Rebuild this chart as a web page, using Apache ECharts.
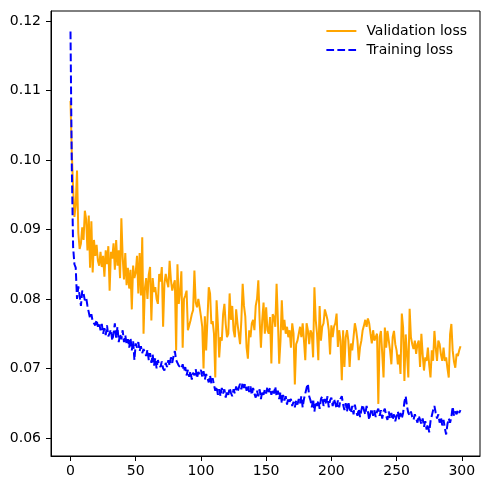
<!DOCTYPE html>
<html>
<head>
<meta charset="utf-8">
<title>loss</title>
<script src="https://cdn.jsdelivr.net/npm/echarts@6/dist/echarts.min.js"></script>
<style>
html, body { margin: 0; padding: 0; background: #fff; }
#chart1 { width: 490px; height: 490px; }
</style>
</head>
<body>
<div id="chart1"></div>
<script>
// values, one per epoch
var valLoss = [
    0.1085, 0.1010, 0.0960, 0.0918, 0.0935, 0.0985, 0.0895, 0.0872, 0.0880, 0.0903,
    0.0885, 0.0927, 0.0915, 0.0870, 0.0920, 0.0845, 0.0912, 0.0838, 0.0885, 0.0862,
    0.0878, 0.0855, 0.0848, 0.0868, 0.0846, 0.0862, 0.0832, 0.0870, 0.0850, 0.0876,
    0.0812, 0.0868, 0.0858, 0.0880, 0.0842, 0.0885, 0.0848, 0.0870, 0.0830, 0.0916,
    0.0860, 0.0828, 0.0866, 0.0820, 0.0845, 0.0815, 0.0842, 0.0785, 0.0848, 0.0830,
    0.0838, 0.0862, 0.0808, 0.0866, 0.0805, 0.0889, 0.0750, 0.0815, 0.0830, 0.0800,
    0.0835, 0.0846, 0.0769, 0.0830, 0.0810, 0.0817, 0.0800, 0.0793, 0.0836, 0.0825,
    0.0846, 0.0760, 0.0822, 0.0836, 0.0825, 0.0817, 0.0855, 0.0827, 0.0812, 0.0820,
    0.0827, 0.0726, 0.0850, 0.0793, 0.0810, 0.0840, 0.0730, 0.0800, 0.0805, 0.0812,
    0.0755, 0.0762, 0.0769, 0.0778, 0.0784, 0.0841, 0.0795, 0.0788, 0.0800, 0.0788,
    0.0775, 0.0760, 0.0700, 0.0775, 0.0726, 0.0770, 0.0817, 0.0808, 0.0764, 0.0768,
    0.0750, 0.0687, 0.0798, 0.0764, 0.0716, 0.0745, 0.0740, 0.0778, 0.0793, 0.0764,
    0.0745, 0.0750, 0.0808, 0.0770, 0.0790, 0.0755, 0.0745, 0.0785, 0.0765, 0.0750,
    0.0735, 0.0770, 0.0822, 0.0790, 0.0775, 0.0730, 0.0714, 0.0755, 0.0745, 0.0765,
    0.0770, 0.0755, 0.0790, 0.0800, 0.0827, 0.0770, 0.0730, 0.0770, 0.0795, 0.0750,
    0.0788, 0.0755, 0.0750, 0.0774, 0.0707, 0.0778, 0.0774, 0.0760, 0.0822, 0.0770,
    0.0707, 0.0740, 0.0798, 0.0755, 0.0770, 0.0750, 0.0760, 0.0745, 0.0755, 0.0730,
    0.0765, 0.0750, 0.0677, 0.0735, 0.0740, 0.0750, 0.0760, 0.0745, 0.0765, 0.0740,
    0.0712, 0.0765, 0.0755, 0.0735, 0.0755, 0.0750, 0.0716, 0.0817, 0.0770, 0.0750,
    0.0712, 0.0790, 0.0740, 0.0760, 0.0765, 0.0785, 0.0778, 0.0770, 0.0755, 0.0720,
    0.0762, 0.0745, 0.0760, 0.0765, 0.0779, 0.0731, 0.0755, 0.0740, 0.0683, 0.0755,
    0.0702, 0.0745, 0.0755, 0.0740, 0.0702, 0.0736, 0.0726, 0.0745, 0.0765, 0.0755,
    0.0740, 0.0712, 0.0731, 0.0740, 0.0755, 0.0762, 0.0770, 0.0760, 0.0772, 0.0765,
    0.0750, 0.0736, 0.0755, 0.0740, 0.0745, 0.0750, 0.0649, 0.0745, 0.0754, 0.0721,
    0.0687, 0.0759, 0.0730, 0.0754, 0.0740, 0.0726, 0.0706, 0.0745, 0.0754, 0.0735,
    0.0726, 0.0706, 0.0720, 0.0692, 0.0779, 0.0759, 0.0682, 0.0749, 0.0720, 0.0687,
    0.0786, 0.0745, 0.0735, 0.0728, 0.0740, 0.0721, 0.0735, 0.0740, 0.0702, 0.0750,
    0.0720, 0.0697, 0.0716, 0.0711, 0.0730, 0.0705, 0.0687, 0.0726, 0.0711, 0.0754,
    0.0730, 0.0711, 0.0740, 0.0735, 0.0720, 0.0711, 0.0730, 0.0711, 0.0716, 0.0700,
    0.0687, 0.0749, 0.0764, 0.0726, 0.0710, 0.0701, 0.0721, 0.0718, 0.0726, 0.0732
];
var trainLoss = [
    0.1185, 0.0990, 0.0875, 0.0850, 0.0845, 0.0800, 0.0818, 0.0805, 0.0790, 0.0812,
    0.0808, 0.0798, 0.0802, 0.0790, 0.0788, 0.0772, 0.0778, 0.0768, 0.0770, 0.0762,
    0.0770, 0.0760, 0.0766, 0.0755, 0.0764, 0.0750, 0.0758, 0.0748, 0.0762, 0.0746,
    0.0745, 0.0756, 0.0740, 0.0750, 0.0765, 0.0744, 0.0760, 0.0738, 0.0750, 0.0742,
    0.0755, 0.0738, 0.0748, 0.0735, 0.0742, 0.0730, 0.0744, 0.0726, 0.0740, 0.0712,
    0.0736, 0.0730, 0.0738, 0.0725, 0.0732, 0.0722, 0.0728, 0.0730, 0.0718, 0.0727,
    0.0712, 0.0722, 0.0708, 0.0720, 0.0704, 0.0715, 0.0700, 0.0712, 0.0705, 0.0702,
    0.0710, 0.0700, 0.0697, 0.0708, 0.0702, 0.0712, 0.0704, 0.0716, 0.0708, 0.0718,
    0.0725, 0.0712, 0.0708, 0.0704, 0.0706, 0.0700, 0.0706, 0.0696, 0.0702, 0.0690,
    0.0698, 0.0688, 0.0696, 0.0684, 0.0694, 0.0690, 0.0699, 0.0686, 0.0695, 0.0692,
    0.0698, 0.0688, 0.0696, 0.0684, 0.0692, 0.0686, 0.0680, 0.0690, 0.0678, 0.0686,
    0.0676, 0.0668, 0.0674, 0.0662, 0.0670, 0.0660, 0.0672, 0.0664, 0.0670, 0.0658,
    0.0668, 0.0662, 0.0672, 0.0665, 0.0660, 0.0670, 0.0664, 0.0674, 0.0666, 0.0672,
    0.0678, 0.0670, 0.0680, 0.0672, 0.0678, 0.0668, 0.0676, 0.0666, 0.0674, 0.0662,
    0.0672, 0.0664, 0.0658, 0.0668, 0.0660, 0.0670, 0.0656, 0.0668, 0.0662, 0.0670,
    0.0664, 0.0674, 0.0666, 0.0672, 0.0662, 0.0670, 0.0664, 0.0674, 0.0660, 0.0668,
    0.0656, 0.0666, 0.0650, 0.0662, 0.0654, 0.0660, 0.0648, 0.0658, 0.0652, 0.0656,
    0.0646, 0.0652, 0.0644, 0.0654, 0.0648, 0.0656, 0.0650, 0.0660, 0.0644, 0.0656,
    0.0664, 0.0672, 0.0678, 0.0660, 0.0654, 0.0644, 0.0656, 0.0638, 0.0652, 0.0646,
    0.0654, 0.0642, 0.0656, 0.0660, 0.0646, 0.0656, 0.0648, 0.0660, 0.0644, 0.0654,
    0.0658, 0.0646, 0.0656, 0.0650, 0.0642, 0.0654, 0.0644, 0.0656, 0.0660, 0.0648,
    0.0640, 0.0650, 0.0638, 0.0652, 0.0642, 0.0636, 0.0646, 0.0634, 0.0648, 0.0638,
    0.0632, 0.0642, 0.0630, 0.0640, 0.0648, 0.0640, 0.0634, 0.0646, 0.0638, 0.0626,
    0.0636, 0.0642, 0.0632, 0.0640, 0.0630, 0.0638, 0.0642, 0.0632, 0.0640, 0.0628,
    0.0638, 0.0642, 0.0632, 0.0626, 0.0638, 0.0628, 0.0636, 0.0626, 0.0634, 0.0624,
    0.0632, 0.0638, 0.0626, 0.0636, 0.0628, 0.0636, 0.0652, 0.0660, 0.0645, 0.0636,
    0.0632, 0.0638, 0.0630, 0.0626, 0.0634, 0.0628, 0.0622, 0.0632, 0.0626, 0.0620,
    0.0628, 0.0616, 0.0624, 0.0612, 0.0620, 0.0608, 0.0624, 0.0632, 0.0640, 0.0646,
    0.0636, 0.0628, 0.0634, 0.0622, 0.0630, 0.0618, 0.0626, 0.0614, 0.0605, 0.0620,
    0.0628, 0.0622, 0.0630, 0.0645, 0.0632, 0.0638, 0.0634, 0.0640, 0.0636, 0.0640
];
var xTicks = [0, 50, 100, 150, 200, 250, 300];
var yTicks = [0.06, 0.07, 0.08, 0.09, 0.10, 0.11, 0.12];

function pairs(arr) {
    return arr.map(function (v, i) { return [i, v]; });
}

var myChart = echarts.init(document.getElementById('chart1'));
var font = 'DejaVu Sans';
var option = {
    animation: false,
    textStyle: { fontFamily: font },
    grid: {
        left: 51, right: 10, top: 11, bottom: 34,
        show: true, borderColor: '#000', borderWidth: 1
    },
    legend: {
        orient: 'vertical',
        right: 23,
        top: 24,
        padding: 0,
        itemWidth: 30,
        itemHeight: 14,
        itemGap: 5,
        align: 'left',
        itemStyle: { opacity: 0 },
        textStyle: { fontFamily: font, fontSize: 14, color: '#000', padding: [0, 0, 0, 5] },
        data: ['Validation loss', 'Training loss']
    },
    xAxis: {
        type: 'value',
        min: -14.95,
        max: 313.95,
        splitLine: { show: false },
        axisLine: { show: true, onZero: false, lineStyle: { color: '#000', width: 1 } },
        axisTick: { show: true, inside: false, length: 5, customValues: xTicks, lineStyle: { color: '#000' } },
        axisLabel: { customValues: xTicks, margin: 8, color: '#000', fontSize: 14, fontFamily: font }
    },
    yAxis: {
        type: 'value',
        min: 0.0574,
        max: 0.12145,
        splitLine: { show: false },
        axisLine: { show: true, onZero: false, lineStyle: { color: '#000', width: 1 } },
        axisTick: { show: true, inside: false, length: 5, customValues: yTicks, lineStyle: { color: '#000' } },
        axisLabel: {
            customValues: yTicks, margin: 10, color: '#000', fontSize: 14, fontFamily: font,
            formatter: function (v) { return v.toFixed(2); }
        }
    },
    series: [
        {
            name: 'Validation loss',
            type: 'line',
            symbol: 'none',
            color: '#FFA500',
            lineStyle: { color: '#FFA500', width: 2 },
            data: pairs(valLoss)
        },
        {
            name: 'Training loss',
            type: 'line',
            symbol: 'none',
            color: '#0000FF',
            lineStyle: { color: '#0000FF', width: 2, type: [7.7, 3.3] },
            data: pairs(trainLoss)
        }
    ]
};
myChart.setOption(option);
</script>
</body>
</html>
